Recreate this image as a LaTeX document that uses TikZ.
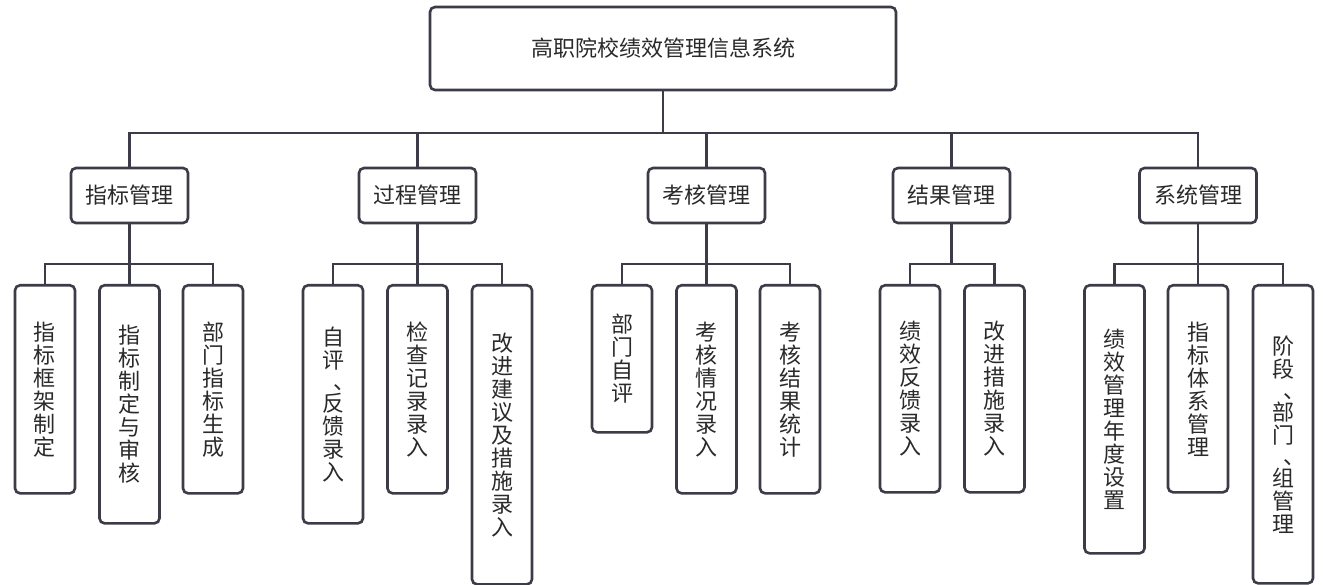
\documentclass[tikz,border=0pt]{standalone}
\usepackage{fontspec}
\newfontfamily\cjk{Noto Sans CJK SC}
\definecolor{linec}{HTML}{3C3C48}
\definecolor{textc}{HTML}{2A2A2A}
\newcommand{\vdun}{\makebox[22pt][l]{\hspace{11pt}\raisebox{2pt}{、}}}
\begin{document}
\begin{tikzpicture}[x=1pt,y=-1pt,
  box/.style={draw=linec, line width=2.6pt, rounded corners=5pt, fill=white, inner sep=0pt,
              text=textc, font=\cjk\fontsize{22}{23}\selectfont},
  topbox/.style={box, minimum width=466pt, minimum height=83pt},
  midbox/.style={box, minimum width=117pt, minimum height=55pt},
  leafbox/.style={box, anchor=north, minimum width=60pt, text width=24pt, align=center},
  conn/.style={draw=linec, line width=2.6pt}]
\useasboundingbox (0,0) rectangle (1323,585);
\fill[white] (0,0) rectangle (1323,585);

\node[topbox] (top) at (663,48.5) {高职院校绩效管理信息系统};

\node[midbox] (m1) at (129.5,195.5) {指标管理};
\node[midbox] (m2) at (417.5,195.5) {过程管理};
\node[midbox] (m3) at (706.5,195.5) {考核管理};
\node[midbox] (m4) at (951.5,195.5) {结果管理};
\node[midbox] (m5) at (1198,195.5) {系统管理};

\coordinate (busy) at (0,133);
\coordinate (suby) at (0,264);

% leaves group 1
\node[leafbox, minimum height=208pt] (a1) at (45,284) {指\\标\\框\\架\\制\\定};
\node[leafbox, minimum height=238pt] (a2) at (129.5,284) {指\\标\\制\\定\\与\\审\\核};
\node[leafbox, minimum height=208pt] (a3) at (213,284) {部\\门\\指\\标\\生\\成};
% group 2
\node[leafbox, minimum height=238pt] (b1) at (333,284) {自\\评\\\vdun\\[-3pt]反\\馈\\录\\入};
\node[leafbox, minimum height=208pt] (b2) at (417.5,284) {检\\查\\记\\录\\录\\入};
\node[leafbox, minimum height=299pt] (b3) at (502,284) {改\\进\\建\\议\\及\\措\\施\\录\\入};
% group 3
\node[leafbox, minimum height=147pt] (c1) at (622,284) {部\\门\\自\\评};
\node[leafbox, minimum height=208pt] (c2) at (706.5,284) {考\\核\\情\\况\\录\\入};
\node[leafbox, minimum height=208pt] (c3) at (790,284) {考\\核\\结\\果\\统\\计};
% group 4
\node[leafbox, minimum height=207pt] (d1) at (910,284) {绩\\效\\反\\馈\\录\\入};
\node[leafbox, minimum height=207pt] (d2) at (994.5,284) {改\\进\\措\\施\\录\\入};
% group 5
\node[leafbox, minimum height=268pt] (e1) at (1114.5,284) {绩\\效\\管\\理\\年\\度\\设\\置};
\node[leafbox, minimum height=207pt] (e2) at (1198,284) {指\\标\\体\\系\\管\\理};
\node[leafbox, minimum height=298pt] (e3) at (1283,284) {阶\\段\\\vdun\\[-3pt]部\\门\\\vdun\\[-3pt]组\\管\\理};

% main bus
\draw[conn] (top.south) -- (top.south |- busy);
\draw[conn] (m1.north) -- (m1.north |- busy) -- (m5.north |- busy) -- (m5.north);
\foreach \m in {m2,m3,m4} \draw[conn] (\m.north) -- (\m.north |- busy);

% sub buses
\draw[conn] (m1.south) -- (m1.south |- suby);
\draw[conn] (a1.north) -- (a1.north |- suby) -- (a3.north |- suby) -- (a3.north);
\draw[conn] (a2.north) -- (a2.north |- suby);

\draw[conn] (m2.south) -- (m2.south |- suby);
\draw[conn] (b1.north) -- (b1.north |- suby) -- (b3.north |- suby) -- (b3.north);
\draw[conn] (b2.north) -- (b2.north |- suby);

\draw[conn] (m3.south) -- (m3.south |- suby);
\draw[conn] (c1.north) -- (c1.north |- suby) -- (c3.north |- suby) -- (c3.north);
\draw[conn] (c2.north) -- (c2.north |- suby);

\draw[conn] (m4.south) -- (m4.south |- suby);
\draw[conn] (d1.north) -- (d1.north |- suby) -- (d2.north |- suby) -- (d2.north);

\draw[conn] (m5.south) -- (m5.south |- suby);
\draw[conn] (e1.north) -- (e1.north |- suby) -- (e3.north |- suby) -- (e3.north);
\draw[conn] (e2.north) -- (e2.north |- suby);
\end{tikzpicture}
\end{document}
